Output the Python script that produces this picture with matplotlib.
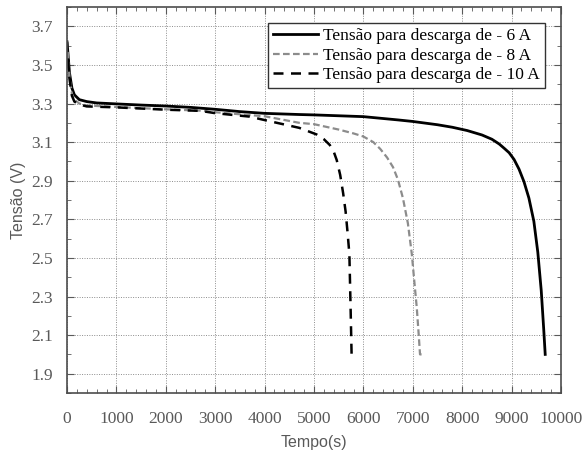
import numpy as np
import matplotlib
matplotlib.use("Agg")
import matplotlib.pyplot as plt
from matplotlib.ticker import MultipleLocator

# tempo (s) e tensão (V)
t_6a = [0, 20, 50, 100, 150, 250, 400, 600, 1000, 1500, 2000, 2500, 3000, 3500, 4000, 4700, 5000,
        6000, 6700, 7000, 7500, 7800, 8100, 8400, 8600, 8750, 8850, 8950, 9050, 9150, 9250, 9350,
        9450, 9530, 9600, 9650, 9680]
v_6a = [3.62, 3.56, 3.46, 3.38, 3.345, 3.32, 3.31, 3.303, 3.298, 3.292, 3.287, 3.28, 3.27, 3.258,
        3.249, 3.243, 3.241, 3.232, 3.215, 3.207, 3.19, 3.177, 3.16, 3.137, 3.115, 3.09, 3.068, 3.045,
        3.01, 2.96, 2.895, 2.81, 2.69, 2.53, 2.33, 2.13, 2.0]

t_8a = [0, 20, 50, 100, 150, 250, 400, 1000, 2000, 2700, 3000, 3700, 4000, 4700, 5000, 5500, 5800,
        6000, 6200, 6340, 6480, 6600, 6700, 6800, 6900, 6980, 7030, 7080, 7120, 7146, 7180]
v_8a = [3.62, 3.55, 3.44, 3.35, 3.32, 3.30, 3.29, 3.282, 3.27, 3.263, 3.255, 3.24, 3.234, 3.20,
        3.193, 3.165, 3.145, 3.129, 3.1, 3.065, 3.02, 2.97, 2.905, 2.81, 2.68, 2.52, 2.38, 2.243,
        2.1, 2.0, 2.0]

t_10a = [0, 20, 50, 100, 150, 250, 400, 1000, 2000, 2700, 3000, 3700, 3970, 4700, 5050, 5200, 5320,
         5400, 5460, 5530, 5590, 5640, 5680, 5716, 5740, 5763]
v_10a = [3.62, 3.54, 3.43, 3.34, 3.31, 3.295, 3.285, 3.28, 3.268, 3.262, 3.25, 3.232, 3.216, 3.174,
         3.14, 3.115, 3.085, 3.05, 3.007, 2.93, 2.835, 2.74, 2.63, 2.52, 2.25, 1.976]

plt.rcParams['font.family'] = ['Liberation Serif', 'DejaVu Serif']

fig = plt.figure(figsize=(5.85, 4.59), dpi=100)
ax = fig.add_axes([0.1145, 0.1438, 0.8445, 0.8409])

ax.plot(t_6a, v_6a, color='black', lw=2.0, label='Tensão para descarga de - 6 A')
ax.plot(t_8a, v_8a, color='#8c8c8c', lw=1.6, linestyle=(0, (3, 1.5)), label='Tensão para descarga de - 8 A')
ax.plot(t_10a, v_10a, color='black', lw=1.8, linestyle=(0, (4, 3)), label='Tensão para descarga de - 10 A')

ax.set_xlim(0, 10000)
ax.set_ylim(1.8, 3.8)
ax.xaxis.set_major_locator(MultipleLocator(1000))
ax.xaxis.set_minor_locator(MultipleLocator(200))
ax.set_yticks(np.arange(1.9, 3.71, 0.2))
ax.yaxis.set_minor_locator(MultipleLocator(0.1))
ax.tick_params(which='both', direction='in', top=True, right=True, colors='0.35', labelsize=12.5)
ax.tick_params(which='major', length=5)
ax.tick_params(which='minor', length=3)
ax.tick_params(axis='x', pad=13)
ax.tick_params(axis='y', pad=10)
for s in ax.spines.values():
    s.set_color('0.3')
    s.set_linewidth(1.2)

ax.grid(True, which='major', linestyle=(0, (1, 1.5)), color='0.55', lw=0.7)

ax.set_xlabel('Tempo(s)', family=['Liberation Sans', 'DejaVu Sans'], fontsize=11.5, color='0.35', labelpad=6)
ax.set_ylabel('Tensão (V)', family=['Liberation Sans', 'DejaVu Sans'], fontsize=11.5, color='0.35', labelpad=4)

leg = ax.legend(loc='upper right', fontsize=12.5, frameon=True, fancybox=False, edgecolor='0.2',
                framealpha=1, borderpad=0.3, handlelength=2.6, handletextpad=0.3, labelspacing=0.2,
                borderaxespad=0.9)
leg.get_frame().set_linewidth(1.0)

fig.savefig('out.png', dpi=100)
